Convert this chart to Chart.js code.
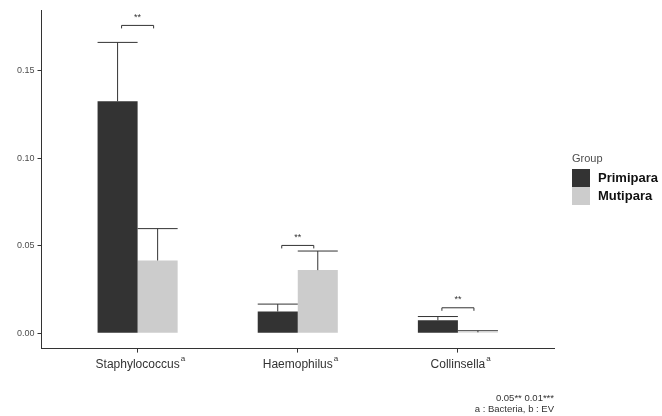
<!DOCTYPE html>
<html>
<head>
<meta charset="utf-8">
<script src="https://cdn.jsdelivr.net/npm/chart.js@4.4.0/dist/chart.umd.min.js"></script>
<style>
  html, body { margin: 0; padding: 0; background: #fff; }
  canvas { display: block; }
</style>
</head>
<body>
<canvas id="chart" width="662" height="416"></canvas>
<script>
const categories = ['Staphylococcus', 'Haemophilus', 'Collinsella'];
const superscripts = ['a', 'a', 'a'];
const primipara = [0.1324, 0.0124, 0.0074];
const mutipara = [0.0415, 0.0360, 0.0005];
const primiparaUpper = [0.1660, 0.0166, 0.0095];
const mutiparaUpper = [0.0597, 0.0469, 0.0014];
const sigHeights = [0.1757, 0.0501, 0.0145];
const sigLabels = ['**', '**', '**'];
const yTicks = [0, 0.05, 0.10, 0.15];
const captionLines = ['0.05** 0.01***', 'a : Bacteria, b : EV'];

const FONT = '"Liberation Sans", Arial, sans-serif';
const upperLimits = [primiparaUpper, mutiparaUpper];

const extrasPlugin = {
  id: 'extras',
  afterDatasetsDraw(chart) {
    const { ctx, scales: { x, y } } = chart;
    ctx.save();
    ctx.strokeStyle = '#333';
    ctx.lineWidth = 1;

    // error bars (upper whisker only)
    chart.data.datasets.forEach((ds, di) => {
      const meta = chart.getDatasetMeta(di);
      meta.data.forEach((bar, i) => {
        const { x: bx, width } = bar.getProps(['x', 'width'], true);
        const top = y.getPixelForValue(upperLimits[di][i]);
        const base = y.getPixelForValue(ds.data[i].y);
        ctx.beginPath();
        ctx.moveTo(bx, base);
        ctx.lineTo(bx, top);
        ctx.moveTo(bx - width / 2, top);
        ctx.lineTo(bx + width / 2, top);
        ctx.stroke();
      });
    });

    // significance brackets
    ctx.fillStyle = '#333';
    ctx.font = '9px ' + FONT;
    ctx.textAlign = 'center';
    ctx.textBaseline = 'middle';
    categories.forEach((c, i) => {
      const x1 = x.getPixelForValue(i + 1 - 0.1);
      const x2 = x.getPixelForValue(i + 1 + 0.1);
      const py = y.getPixelForValue(sigHeights[i]);
      ctx.beginPath();
      ctx.moveTo(x1, py + 3);
      ctx.lineTo(x1, py);
      ctx.lineTo(x2, py);
      ctx.lineTo(x2, py + 3);
      ctx.stroke();
      ctx.fillText(sigLabels[i], (x1 + x2) / 2, py - 8);
    });
    ctx.restore();
  },
  afterDraw(chart) {
    const { ctx, chartArea, scales: { x } } = chart;
    ctx.save();

    // superscripts on category labels
    ctx.font = '12px ' + FONT;
    const widths = categories.map(c => ctx.measureText(c).width);
    ctx.fillStyle = '#333';
    ctx.font = '8px ' + FONT;
    ctx.textAlign = 'left';
    ctx.textBaseline = 'middle';
    categories.forEach((c, i) => {
      const cx = x.getPixelForValue(i + 1);
      ctx.fillText(superscripts[i], cx + widths[i] / 2 + 1, chartArea.bottom + 10);
    });

    // legend
    const lx = chartArea.right + 18;
    ctx.fillStyle = '#4d4d4d';
    ctx.font = '11px ' + FONT;
    ctx.textBaseline = 'middle';
    ctx.fillText('Group', lx, 159);
    chart.data.datasets.forEach((ds, i) => {
      const top = 169 + i * 18;
      ctx.fillStyle = ds.backgroundColor;
      ctx.fillRect(lx, top, 18, 18);
      ctx.fillStyle = '#111';
      ctx.font = 'bold 13px ' + FONT;
      ctx.fillText(ds.label, lx + 26, top + 9);
    });

    // caption
    ctx.fillStyle = '#333';
    ctx.font = '9.5px ' + FONT;
    ctx.textAlign = 'right';
    captionLines.forEach((t, i) => {
      ctx.fillText(t, chartArea.right, 398 + i * 11);
    });
    ctx.restore();
  }
};

new Chart(document.getElementById('chart'), {
  type: 'bar',
  data: {
    datasets: [
      {
        label: 'Primipara',
        data: primipara.map((v, i) => ({ x: i + 1, y: v })),
        backgroundColor: '#333333',
        borderWidth: 0
      },
      {
        label: 'Mutipara',
        data: mutipara.map((v, i) => ({ x: i + 1, y: v })),
        backgroundColor: '#cccccc',
        borderWidth: 0
      }
    ]
  },
  options: {
    responsive: false,
    animation: false,
    categoryPercentage: 0.5,
    barPercentage: 1,
    layout: { padding: { left: 14, right: 108, top: 10, bottom: 39 } },
    plugins: {
      legend: { display: false },
      tooltip: { enabled: false }
    },
    scales: {
      x: {
        type: 'linear',
        min: 0.4,
        max: 3.6,
        offset: false,
        afterBuildTicks: s => { s.ticks = categories.map((c, i) => ({ value: i + 1 })); },
        ticks: {
          callback: v => categories[v - 1],
          font: { family: FONT, size: 12 },
          color: '#333',
          padding: 5,
          maxRotation: 0,
          autoSkip: false
        },
        grid: { offset: false, drawOnChartArea: false, drawTicks: true, tickLength: 4, color: '#333' },
        border: { display: true, color: '#333', width: 1 }
      },
      y: {
        min: -0.0088,
        max: 0.1845,
        afterBuildTicks: s => { s.ticks = yTicks.map(v => ({ value: v })); },
        ticks: {
          callback: v => v.toFixed(2),
          font: { family: FONT, size: 9 },
          color: '#4d4d4d',
          padding: 3
        },
        grid: { drawOnChartArea: false, drawTicks: true, tickLength: 4, color: '#333' },
        border: { display: true, color: '#333', width: 1 }
      }
    }
  },
  plugins: [extrasPlugin]
});
</script>
</body>
</html>
